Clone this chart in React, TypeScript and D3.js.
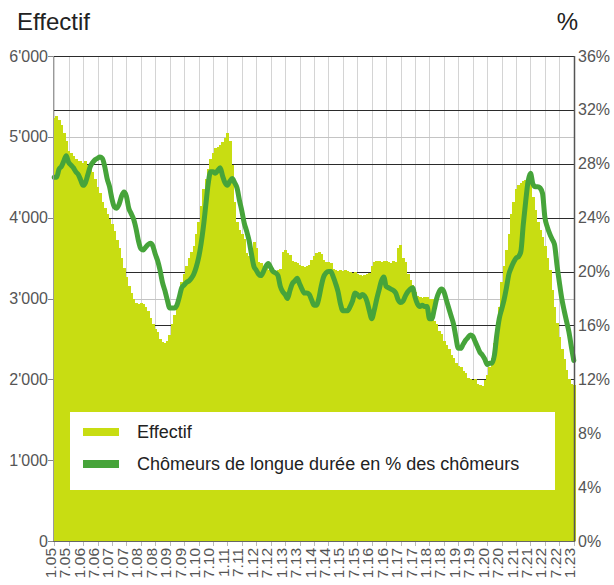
import { useEffect, useRef } from "react";
import * as d3 from "d3";

const WIDTH = 614;
const HEIGHT = 585;
const MARGIN = { top: 56, right: 39, bottom: 44, left: 53 };

// monthly, Jan 2005 .. Jan 2023
const effectif = [
  5230, 5260, 5210, 5150, 5050, 4950, 4830, 4800, 4760, 4720, 4700, 4700,
  4680, 4700, 4650, 4620, 4560, 4480, 4380, 4300, 4200, 4120, 4050, 3980,
  3920, 3830, 3720, 3620, 3500, 3380, 3260, 3160, 3070, 3000, 2950, 2930,
  2940, 2930, 2900, 2840, 2760, 2680, 2620, 2580, 2500, 2460, 2450, 2470,
  2550, 2680, 2800, 2930, 3050, 3200, 3300, 3400, 3500, 3580, 3650, 3800,
  3950, 4150, 4350, 4480, 4600, 4720, 4800, 4860, 4880, 4900, 4930, 4980,
  5050, 4950, 4650, 4200, 3950, 3850, 3800, 3740, 3560, 3520, 3480, 3700,
  3620, 3450, 3440, 3380, 3380, 3350, 3340, 3330, 3340, 3350, 3360, 3580,
  3600, 3560, 3540, 3470, 3450, 3440, 3420, 3400, 3390, 3400, 3420, 3480,
  3520, 3560, 3570, 3550, 3480, 3450, 3450, 3440, 3370, 3350, 3340, 3350,
  3340, 3350, 3340, 3330, 3320, 3330, 3300, 3290, 3280, 3290, 3300, 3320,
  3400, 3450, 3460, 3470, 3450, 3460, 3470, 3450, 3440, 3460, 3450, 3620,
  3660, 3500, 3450, 3300, 3230, 3170, 3080, 3030, 3020, 3010, 3020, 3020,
  3000, 3000, 2720, 2680, 2600, 2560, 2480, 2420, 2380, 2300, 2270, 2200,
  2170, 2150, 2100, 2080, 2020, 2000, 1990, 2000, 1940, 1930, 1920, 1990,
  2050, 2150, 2270, 2450, 2650, 2900, 3200, 3400, 3600, 3800, 4050, 4200,
  4350, 4400, 4430, 4450, 4470, 4480, 4500, 4250, 4100, 3950, 3850, 3760,
  3650, 3500, 3350, 3100, 2900, 2700, 2520, 2380, 2250, 2120, 2000, 1940,
  1930,
];

// Chômeurs de longue durée en % des chômeurs
const longTermShare = [
  27.0, 27.0, 27.6, 27.8, 28.2, 28.6, 28.1, 27.9, 27.7, 27.4, 27.2, 26.8,
  26.4, 26.6, 27.2, 27.8, 28.1, 28.3, 28.4, 28.5, 28.4, 27.8, 26.9, 26.3,
  25.4, 24.8, 24.7, 25.0, 25.6, 25.9, 25.6, 24.7, 24.3, 23.9, 23.2, 22.3,
  21.7, 21.6, 21.8, 22.0, 22.1, 21.9, 21.3, 20.8, 20.1, 19.2, 18.6, 17.9,
  17.3, 17.3, 17.3, 17.5, 18.1, 18.8, 19.0, 19.2, 19.3, 19.5, 19.8, 20.3,
  21.0, 22.0, 23.3, 24.9, 26.5, 27.4, 27.4, 27.3, 27.5, 27.7, 27.1, 26.6,
  26.4, 26.7, 26.9, 26.6, 26.2, 25.3, 24.5, 23.6, 23.0, 22.3, 21.3, 20.4,
  20.1, 19.8, 19.7, 20.0, 20.4, 20.6, 20.3, 20.0, 19.9, 19.7, 18.9, 18.5,
  18.3, 18.0, 18.6, 19.1, 19.3, 19.5, 19.1, 18.7, 18.4, 18.4, 18.3, 17.9,
  17.5, 17.5, 18.0, 18.9, 19.6, 19.9, 20.0, 20.0, 19.6, 19.1, 18.5, 17.6,
  17.1, 17.1, 17.1, 17.4, 17.8, 18.4, 18.3, 18.1, 18.3, 18.2, 17.8, 17.1,
  16.5, 17.1, 17.9, 18.6, 19.3, 19.6, 18.9, 18.8, 18.7, 18.6, 18.4, 17.9,
  17.7, 17.8, 18.2, 18.5, 18.7, 18.8, 18.1, 17.6, 17.4, 17.5, 17.4, 17.4,
  16.5, 16.5, 17.2, 18.0, 18.5, 18.7, 18.5, 17.9, 17.3, 16.7, 16.1, 15.1,
  14.3, 14.3, 14.6, 14.9, 15.1, 15.3, 15.2, 14.8, 14.4, 14.0, 13.8, 13.5,
  13.1, 13.2, 13.2, 13.8, 15.3, 16.5, 17.2, 17.9, 18.8, 19.8, 20.3, 20.7,
  21.0, 21.1, 21.5, 23.5, 25.2, 26.7, 27.3, 26.5, 26.3, 26.3, 26.2, 25.8,
  24.0, 23.3, 22.8, 22.4, 22.0, 20.5, 19.2, 18.0, 17.1, 16.3, 15.5, 14.4,
  13.4,
];

// one label every 6 months
const tickLabels = [
  "1.05", "7.05", "1.06", "7.06", "1.07", "7.07", "1.08", "7.08", "1.09", "7.09",
  "1.10", "7.10", "1.11", "7.11", "1.12", "7.12", "1.13", "7.13", "1.14", "7.14",
  "1.15", "7.15", "1.16", "7.16", "1.17", "7.17", "1.18", "7.18", "1.19", "7.19",
  "1.20", "7.20", "1.21", "7.21", "1.22", "7.22", "1.23",
];

const leftTicks = [0, 1000, 2000, 3000, 4000, 5000, 6000];
const rightTicks = [0, 4, 8, 12, 16, 20, 24, 28, 32, 36];

const legendLabels = ["Effectif", "Chômeurs de longue durée en % des chômeurs"];

const BAR_COLOR = "#c8dd12";
const LINE_COLOR = "#46a43a";
const FONT = "'Liberation Sans', Arial, sans-serif";

const fmt = d3.formatLocale({
  decimal: ".",
  thousands: "'",
  grouping: [3],
  currency: ["", ""],
}).format(",");

export default function App() {
  const svgRef = useRef<SVGSVGElement>(null);

  useEffect(() => {
    if (!svgRef.current) return;
    const svg = d3.select(svgRef.current);
    svg.selectAll("*").remove();

    const left = MARGIN.left;
    const right = WIDTH - MARGIN.right;
    const top = MARGIN.top;
    const bottom = HEIGHT - MARGIN.bottom;

    const x = d3
      .scaleBand<number>()
      .domain(d3.range(effectif.length))
      .range([left, right])
      .padding(0);
    const bw = x.bandwidth();
    const cx = (i: number) => (x(i) ?? 0) + bw / 2;

    const yL = d3.scaleLinear().domain([0, 6000]).range([bottom, top]);
    const yR = d3.scaleLinear().domain([0, 36]).range([bottom, top]);
    const crisp = (v: number) => Math.round(v) + 0.5;

    const grid = svg.append("g");

    // vertical grid (every 6 months)
    grid
      .selectAll("line.v")
      .data(tickLabels)
      .join("line")
      .attr("x1", (_, k) => crisp(cx(k * 6)))
      .attr("x2", (_, k) => crisp(cx(k * 6)))
      .attr("y1", top)
      .attr("y2", bottom)
      .attr("stroke", "#d4d4d4")
      .attr("stroke-width", 1);

    // light grid for left axis
    grid
      .selectAll("line.l")
      .data(leftTicks.slice(1))
      .join("line")
      .attr("x1", left)
      .attr("x2", right)
      .attr("y1", (d) => crisp(yL(d)))
      .attr("y2", (d) => crisp(yL(d)))
      .attr("stroke", "#c4c4c4");

    // dark grid for right axis
    grid
      .selectAll("line.r")
      .data(rightTicks.slice(1))
      .join("line")
      .attr("x1", left)
      .attr("x2", right)
      .attr("y1", (d) => crisp(yR(d)))
      .attr("y2", (d) => crisp(yR(d)))
      .attr("stroke", "#2b2b2b")
      .attr("stroke-width", 1.2);

    // bars
    svg
      .append("g")
      .attr("shape-rendering", "crispEdges")
      .selectAll("rect")
      .data(effectif)
      .join("rect")
      .attr("x", (_, i) => x(i) ?? 0)
      .attr("width", bw + 0.6)
      .attr("y", (d) => yL(d))
      .attr("height", (d) => bottom - yL(d))
      .attr("fill", BAR_COLOR);

    // line
    const line = d3
      .line<number>()
      .x((_, i) => cx(i))
      .y((d) => yR(d))
      .curve(d3.curveMonotoneX);

    svg
      .append("path")
      .datum(longTermShare)
      .attr("d", line)
      .attr("fill", "none")
      .attr("stroke", LINE_COLOR)
      .attr("stroke-width", 5)
      .attr("stroke-linejoin", "round")
      .attr("stroke-linecap", "round");

    // axes lines
    svg
      .append("line")
      .attr("x1", left + 0.5)
      .attr("x2", left + 0.5)
      .attr("y1", top)
      .attr("y2", bottom)
      .attr("stroke", "#9a9a9a");
    svg
      .append("line")
      .attr("x1", right - 0.5)
      .attr("x2", right - 0.5)
      .attr("y1", top)
      .attr("y2", bottom + 1)
      .attr("stroke", "#555")
      .attr("stroke-width", 1.5);
    svg
      .append("line")
      .attr("x1", left)
      .attr("x2", right)
      .attr("y1", bottom + 0.5)
      .attr("y2", bottom + 0.5)
      .attr("stroke", "#666");

    // left ticks + labels
    const gl = svg.append("g");
    gl.selectAll("line")
      .data(leftTicks)
      .join("line")
      .attr("x1", left - 5)
      .attr("x2", left)
      .attr("y1", (d) => crisp(yL(d)))
      .attr("y2", (d) => crisp(yL(d)))
      .attr("stroke", "#888");
    gl.selectAll("text")
      .data(leftTicks)
      .join("text")
      .attr("x", left - 5)
      .attr("y", (d) => yL(d))
      .attr("dy", "0.35em")
      .attr("text-anchor", "end")
      .attr("font-family", FONT)
      .attr("font-size", 16)
      .attr("fill", "#555")
      .text((d) => fmt(d));

    // right labels
    svg
      .append("g")
      .selectAll("text")
      .data(rightTicks)
      .join("text")
      .attr("x", right + 3)
      .attr("y", (d) => yR(d))
      .attr("dy", "0.35em")
      .attr("font-family", FONT)
      .attr("font-size", 16)
      .attr("fill", "#555")
      .text((d) => `${d}%`);

    // x ticks + rotated labels
    const gx = svg.append("g");
    gx.selectAll("line")
      .data(tickLabels)
      .join("line")
      .attr("x1", (_, k) => crisp(cx(k * 6)))
      .attr("x2", (_, k) => crisp(cx(k * 6)))
      .attr("y1", bottom + 1)
      .attr("y2", bottom + 5)
      .attr("stroke", "#bbb");
    gx.selectAll("text")
      .data(tickLabels)
      .join("text")
      .attr(
        "transform",
        (_, k) => `translate(${cx(k * 6) + 1.5},${bottom + 7}) rotate(-90)`
      )
      .attr("text-anchor", "end")
      .attr("font-family", FONT)
      .attr("font-size", 15.5)
      .attr("fill", "#555")
      .text((d) => d);

    // titles
    svg
      .append("text")
      .attr("x", 17)
      .attr("y", 30)
      .attr("font-family", FONT)
      .attr("font-size", 24)
      .attr("fill", "#222")
      .text("Effectif");
    svg
      .append("text")
      .attr("x", 578)
      .attr("y", 30)
      .attr("text-anchor", "end")
      .attr("font-family", FONT)
      .attr("font-size", 24)
      .attr("fill", "#222")
      .text("%");

    // legend
    const lg = svg.append("g");
    lg.append("rect")
      .attr("x", 70)
      .attr("y", 412)
      .attr("width", 485)
      .attr("height", 78)
      .attr("fill", "#fff");
    const rows = lg
      .selectAll("g")
      .data(legendLabels)
      .join("g")
      .attr("transform", (_, i) => `translate(83,${432 + i * 32})`);
    rows
      .append("rect")
      .attr("x", 0)
      .attr("y", -4)
      .attr("width", 36)
      .attr("height", 8)
      .attr("fill", (_, i) => (i === 0 ? BAR_COLOR : LINE_COLOR));
    rows
      .append("text")
      .attr("x", 54)
      .attr("y", 0)
      .attr("dy", "0.35em")
      .attr("font-family", FONT)
      .attr("font-size", 18)
      .attr("fill", "#222")
      .text((d) => d);
  }, []);

  return (
    <svg
      ref={svgRef}
      width={WIDTH}
      height={HEIGHT}
      style={{ position: "absolute", left: 0, top: 0, background: "#fff" }}
    />
  );
}
